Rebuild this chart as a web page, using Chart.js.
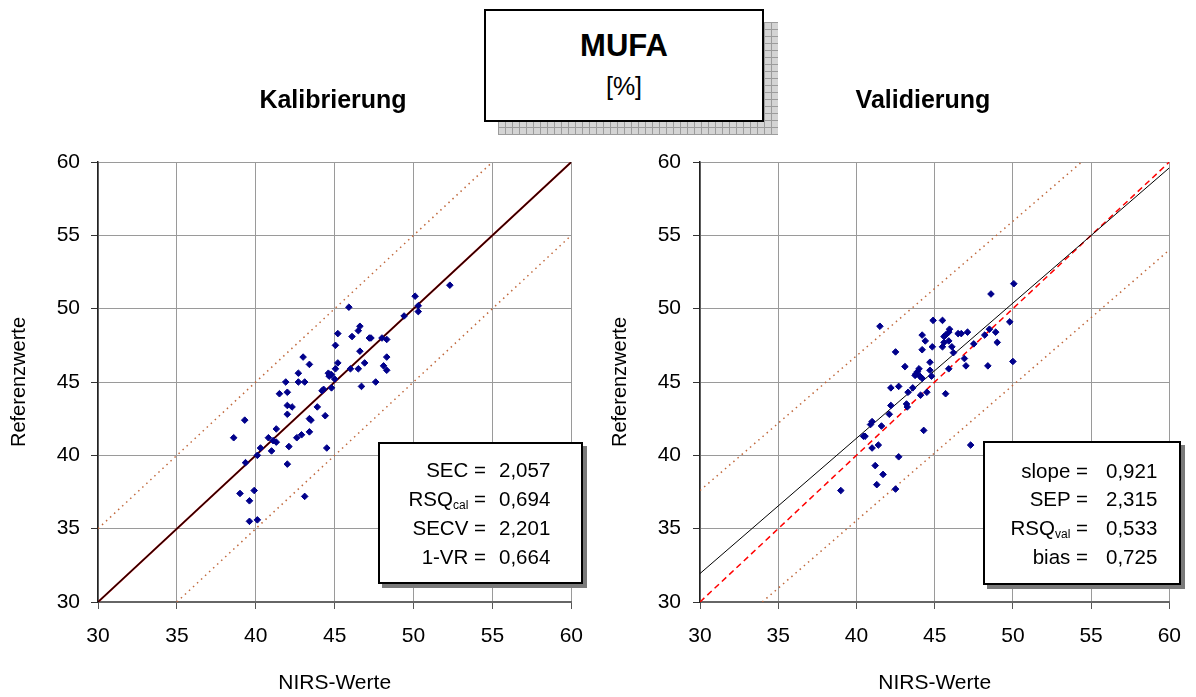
<!DOCTYPE html>
<html>
<head>
<meta charset="utf-8">
<script src="https://cdn.jsdelivr.net/npm/chart.js@4/dist/chart.umd.min.js"></script>
<style>
  html,body{margin:0;padding:0;background:#fff;}
  body{font-family:'Liberation Sans',Arial,sans-serif;color:#000;}
  #wrap{position:relative;width:1196px;height:697px;overflow:hidden;}
  canvas{position:absolute;top:0;}
  .ctitle{position:absolute;font-weight:bold;font-size:25px;white-space:nowrap;transform:translate(-50%,-50%);}
  .tshadow{position:absolute;left:498px;top:22px;width:280px;height:113px;background-color:#d4d4d4;
    background-image:linear-gradient(#9c9c9c 1px,transparent 1px),linear-gradient(90deg,#9c9c9c 1px,transparent 1px);
    background-size:7px 7px;}
  .tbox{position:absolute;left:484px;top:9px;width:276px;height:109px;border:2px solid #000;background:#fff;}
  .sshadow{position:absolute;background:#7a7a7a;}
  .sbox{position:absolute;border:2px solid #000;background:#fff;box-sizing:border-box;}
  .row{position:absolute;font-size:20.5px;white-space:nowrap;line-height:24px;height:24px;}
  .lab{position:absolute;right:0;text-align:right;}
  .val{position:absolute;left:0;}
  sub{font-size:12px;vertical-align:-3px;}
</style>
</head>
<body>
<div id="wrap">
  <canvas id="c1" width="598" height="697" style="left:0"></canvas>
  <canvas id="c2" width="598" height="697" style="left:598px"></canvas>

  <div class="tshadow"></div>
  <div class="tbox"></div>
  <div class="ctitle" style="left:624px;top:46px;font-size:31px;">MUFA</div>
  <div class="ctitle" style="left:624px;top:86px;font-size:25px;font-weight:normal;">[%]</div>

  <div class="ctitle" style="left:333px;top:99px;">Kalibrierung</div>
  <div class="ctitle" style="left:923px;top:99px;">Validierung</div>

  <div class="sshadow" style="left:382px;top:446px;width:205px;height:142px;"></div>
  <div class="sbox" style="left:378px;top:442px;width:205px;height:142px;"></div>
  <div class="sshadow" style="left:987px;top:445px;width:198px;height:144px;"></div>
  <div class="sbox" style="left:983px;top:441px;width:198px;height:144px;"></div>
  <div id="stats"></div>
</div>
<script>
// ---- Data ----
const calX = [52.3,50.1,50.3,50.3,49.4,45.9,46.6,46.5,45.2,46.1,47.2,47.3,48.0,48.3,45.05,46.6,48.3,43.0,46.9,43.4,45.2,48.1,48.3,45.05,46.0,46.5,42.7,44.6,44.7,44.8,44.65,45.0,41.9,42.7,43.1,46.7,47.6,44.8,44.3,44.2,41.5,42.0,42.0,42.3,42.0,43.9,44.4,43.4,43.5,39.3,41.3,43.4,42.9,42.6,40.8,41.1,41.3,38.6,42.1,40.3,41.0,44.5,40.1,39.35,42.0,39.0,39.9,39.6,43.1,39.6,40.1];
const calY = [51.6,50.85,50.2,49.8,49.5,50.1,48.8,48.5,48.3,48.1,48.0,48.0,48.0,47.9,47.5,47.1,46.7,46.7,46.3,46.2,46.3,46.1,45.8,45.9,45.9,45.9,45.6,45.6,45.5,45.5,45.4,45.2,45.0,45.0,45.0,44.7,45.0,44.6,44.5,44.4,44.2,44.3,43.4,43.3,42.8,43.3,42.7,42.5,42.4,42.4,41.8,41.6,41.4,41.2,41.2,41.0,40.9,41.2,40.6,40.5,40.3,40.5,40.0,39.5,39.4,37.4,37.6,36.9,37.2,35.5,35.6];
const valX = [50.06,48.6,49.8,48.9,48.5,48.2,49.0,50.0,48.4,44.9,45.5,41.5,45.95,45.9,45.7,45.6,46.5,46.7,47.1,44.2,44.4,45.9,45.6,45.5,44.85,46.1,47.5,44.2,42.5,46.2,46.9,47.0,44.7,43.1,44.0,43.9,43.8,43.75,44.05,44.7,44.8,45.9,44.2,43.6,42.7,42.2,43.3,44.1,44.5,45.7,42.2,43.2,43.25,42.1,41.0,40.9,41.6,44.3,40.45,40.55,41.4,41.0,47.3,42.7,41.2,41.7,41.3,42.5,39.0];
const valY = [51.7,51.0,49.1,48.4,48.6,48.2,47.7,46.4,46.1,49.2,49.2,48.8,48.6,48.4,48.2,48.1,48.3,48.3,48.4,48.2,47.8,47.8,47.7,47.4,47.4,47.4,47.6,47.2,47.05,47.0,46.6,46.1,46.35,46.05,45.9,45.7,45.55,45.45,45.4,45.8,45.4,45.9,45.25,44.6,44.7,44.6,44.3,44.1,44.3,44.2,43.4,43.5,43.3,42.8,42.3,42.1,42.0,41.7,41.3,41.3,40.7,40.5,40.7,39.9,39.3,38.7,38.0,37.7,37.6];

// reference / regression / limit lines (x,y endpoints)
const calIdentX = [30, 60], calIdentY = [30, 60];
const calUpperX = [30, 55], calUpperY = [35, 60];
const calLowerX = [35, 60], calLowerY = [30, 55];
const valIdentX = [30, 60], valIdentY = [30, 60];
const valRegX = [30, 60], valRegY = [31.94, 59.6];
const valUpperX = [30, 54.4], valUpperY = [37.6, 60];
const valLowerX = [33.98, 60], valLowerY = [30, 54.0];

const axisTicks = [30, 35, 40, 45, 50, 55, 60];
const xTitle = 'NIRS-Werte', yTitle = 'Referenzwerte';

const calStatLabels = ['SEC =', 'RSQ<sub>cal</sub> =', 'SECV =', '1-VR ='];
const calStatValues = ['2,057', '0,694', '2,201', '0,664'];
const valStatLabels = ['slope =', 'SEP =', 'RSQ<sub>val</sub> =', 'bias ='];
const valStatValues = ['0,921', '2,315', '0,533', '0,725'];

// ---- helpers ----
const zip = (xs, ys) => xs.map((x, i) => ({x, y: ys[i]}));
const FONT = "'Liberation Sans', Arial, sans-serif";

function lineDs(xs, ys, color, width, dash) {
  return {type: 'line', data: zip(xs, ys), borderColor: color, borderWidth: width,
    borderDash: dash || [], pointRadius: 0, fill: false, tension: 0, showLine: true};
}

function makeChart(id, pts, lines, geo) {
  return new Chart(document.getElementById(id), {
    type: 'scatter',
    data: {datasets: [
      {data: pts, pointStyle: 'rectRot', pointRadius: 3.3, pointBorderWidth: 1,
       backgroundColor: '#00008b', borderColor: '#00008b', pointHoverRadius: 3.3},
      ...lines
    ]},
    options: {
      responsive: false, animation: false, devicePixelRatio: 1,
      layout: {padding: {top: 162, right: geo.padRight, bottom: 0, left: 0}},
      plugins: {legend: {display: false}, tooltip: {enabled: false}, title: {display: false}},
      scales: {
        x: {type: 'linear', min: 30, max: 60,
          afterBuildTicks: s => { s.ticks = axisTicks.map(v => ({value: v})); },
          afterFit: s => { s.height = 95; },
          ticks: {font: {family: FONT, size: 21}, color: '#000', padding: 15, maxRotation: 0},
          grid: {color: '#9a9a9a', lineWidth: 1, tickLength: 7, tickColor: '#555'},
          border: {display: true, color: '#666', width: 2},
          title: {display: true, text: xTitle, font: {family: FONT, size: 21}, color: '#000', padding: {top: 0, bottom: 1}}
        },
        y: {type: 'linear', min: 30, max: 60,
          afterBuildTicks: s => { s.ticks = axisTicks.map(v => ({value: v})); },
          afterFit: s => { s.width = geo.yWidth; },
          ticks: {font: {family: FONT, size: 21}, color: '#000', padding: geo.yPad},
          grid: {color: '#9a9a9a', lineWidth: 1, tickLength: 7, tickColor: '#333'},
          border: {display: true, color: '#222', width: 1.5},
          title: {display: true, text: yTitle, font: {family: FONT, size: 20}, color: '#000', padding: {top: geo.yTitlePad, bottom: 0}}
        }
      }
    }
  });
}

const dotCol = '#c0683c';
// datasets earlier in the list are drawn on top
makeChart('c1', zip(calX, calY), [
  lineDs(calIdentX, calIdentY, '#1a0000', 1.1),
  lineDs(calIdentX, calIdentY, '#a00000', 2),
  lineDs(calUpperX, calUpperY, dotCol, 1.5, [1.5, 4]),
  lineDs(calLowerX, calLowerY, dotCol, 1.5, [1.5, 4])
], {padRight: 26, yWidth: 98, yPad: 11, yTitlePad: 7});

makeChart('c2', zip(valX, valY), [
  lineDs(valRegX, valRegY, '#000', 1),
  lineDs(valIdentX, valIdentY, '#ff0000', 1.5, [6, 4]),
  lineDs(valUpperX, valUpperY, dotCol, 1.5, [1.5, 4]),
  lineDs(valLowerX, valLowerY, dotCol, 1.5, [1.5, 4])
], {padRight: 23, yWidth: 102, yPad: 12, yTitlePad: 10});

// stat boxes
function statRows(labels, values, labRight, valLeft, centers) {
  let html = '';
  labels.forEach((l, i) => {
    const top = centers[i] - 12;
    html += `<div class="row" style="left:0;top:${top}px;width:${labRight}px;"><span class="lab">${l}</span></div>`;
    html += `<div class="row" style="left:${valLeft}px;top:${top}px;"><span class="val">${values[i]}</span></div>`;
  });
  return html;
}
document.getElementById('stats').innerHTML =
  statRows(calStatLabels, calStatValues, 486, 499, [470, 499, 528, 557]) +
  statRows(valStatLabels, valStatValues, 1088, 1106, [471, 499, 528, 557]);
</script>
</body>
</html>
